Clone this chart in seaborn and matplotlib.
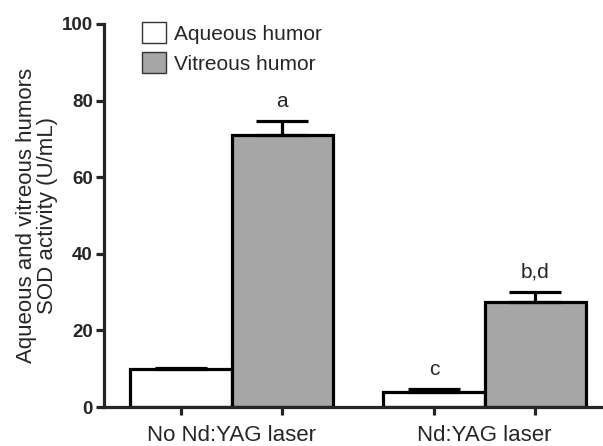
import pandas as pd
import seaborn as sns
import matplotlib.pyplot as plt
from matplotlib.patches import Patch

# values
groups = ["No Nd:YAG laser", "Nd:YAG laser"]
humors = ["Aqueous humor", "Vitreous humor"]
aqueous_mean = [9.9, 4.0]
aqueous_sem = [0.4, 0.8]
vitreous_mean = [71.0, 27.5]
vitreous_sem = [3.8, 2.6]
aqueous_letters = ["", "c"]
vitreous_letters = ["a", "b,d"]
bar_colors = ["white", "#a6a6a6"]

sns.set_style("ticks")
plt.rcParams["font.family"] = ["Liberation Sans", "DejaVu Sans"]

df = pd.DataFrame({
    "group": groups * 2,
    "humor": [humors[0]] * 2 + [humors[1]] * 2,
    "mean": aqueous_mean + vitreous_mean,
})

fig = plt.figure(figsize=(6.03, 4.46), dpi=100)
ax = fig.add_axes([104 / 603, 1 - 407 / 446, 499 / 603, 383 / 446])

sns.barplot(data=df, x="group", y="mean", hue="humor", palette=bar_colors,
            edgecolor="black", linewidth=2.3, errorbar=None, ax=ax, legend=False)

# upper error bars + significance letters
for cont, sems, letters in zip(ax.containers, [aqueous_sem, vitreous_sem],
                               [aqueous_letters, vitreous_letters]):
    for bar, sem, lab in zip(cont, sems, letters):
        x = bar.get_x() + bar.get_width() / 2
        y = bar.get_height()
        ax.errorbar(x, y, yerr=[[0], [sem]], color="black", elinewidth=2.3,
                    capsize=19, capthick=2.3, zorder=3)
        if lab:
            ax.annotate(lab, (x, y + sem), xytext=(0, 7), textcoords="offset points",
                        ha="center", va="bottom", fontsize=15)

ax.set_xlim(-0.504, 1.468)
ax.set_ylim(0, 100)
ax.set_yticks(range(0, 101, 20))
ax.set_xticks([0, 1])
ax.set_xticklabels(groups, fontsize=16)
ax.set_xticks([-0.2, 0.2, 0.8, 1.2], minor=True)
ax.tick_params(axis="x", which="major", length=0, pad=13)
ax.tick_params(axis="x", which="minor", length=6, width=2.3)
ax.tick_params(axis="y", length=6, width=2.3, labelsize=13.5, pad=2)
for t in ax.get_yticklabels():
    t.set_fontweight("bold")
ax.set_xlabel("")
ax.set_ylabel("Aqueous and vitreous humors\nSOD activity (U/mL)", fontsize=16,
              linespacing=0.95, labelpad=3)
for s in ["left", "bottom"]:
    ax.spines[s].set_linewidth(2.3)
sns.despine(ax=ax)

handles = [Patch(facecolor=c, edgecolor="#333333", linewidth=1) for c in bar_colors]
fig.legend(handles, humors, loc="upper left", bbox_to_anchor=(142 / 603, 1 - 22 / 446),
           frameon=False, fontsize=15, borderpad=0, borderaxespad=0,
           handlelength=1.15, handleheight=1.2, handletextpad=0.4, labelspacing=0.4)

fig.savefig("out.png", dpi=100)
